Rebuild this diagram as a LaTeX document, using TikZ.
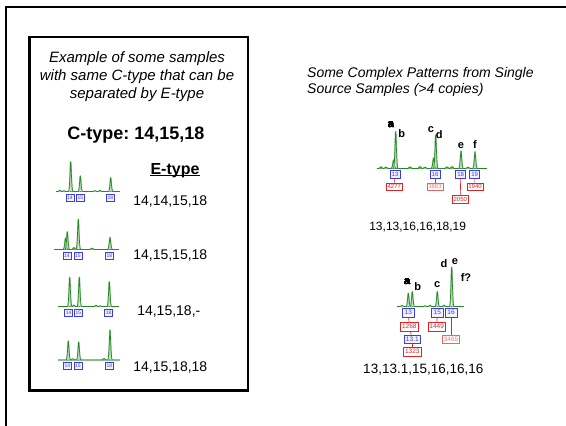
\documentclass[tikz,border=0pt]{standalone}
\usepackage{fontspec}
\setmainfont{Liberation Sans}
\usetikzlibrary{positioning}
\frenchspacing

\definecolor{tracegreen}{RGB}{40,135,40}
\definecolor{alleleblue}{RGB}{60,60,225}
\definecolor{areared}{RGB}{225,35,35}

\tikzset{
  trace/.style={draw=tracegreen, line width=0.7pt, line join=round},
  halo/.style={draw=tracegreen!35, line width=1.7pt, line join=round},
  allele/.style={draw=alleleblue, fill=alleleblue!6, text=alleleblue, line width=0.6pt, inner sep=0.8pt, minimum width=8pt, minimum height=6.8pt, font=\fontsize{5}{5}\selectfont},
  area/.style={draw=areared, fill=white, text=areared, line width=0.6pt, inner sep=1.5pt, minimum height=7.7pt, font=\fontsize{6}{6}\selectfont},
  areafaint/.style={area, draw=areared!70, text=areared!60},
  link/.style={draw=areared, line width=0.6pt},
  peaklbl/.style={font=\bfseries\fontsize{11}{11}\selectfont, inner sep=0pt},
  valuelbl/.style={anchor=base, font=\fontsize{14}{14}\selectfont, inner sep=0pt},
}

% one peak of a trace: x, baseline y, top y
\newcommand{\peak}[3]{%
  \draw[halo] ({#1-1.6},#2) .. controls ({#1-0.8},#2) and ({#1-0.4},#3) .. (#1,#3) .. controls ({#1+0.4},#3) and ({#1+0.8},#2) .. ({#1+1.6},#2);
  \draw[trace] ({#1-2.2},#2) .. controls ({#1-1},#2) and ({#1-0.4},#3) .. (#1,#3) .. controls ({#1+0.4},#3) and ({#1+1},#2) .. ({#1+2.2},#2);}

\begin{document}
\begin{tikzpicture}[x=1pt,y=-1pt]
  \useasboundingbox (0,0) rectangle (566,426);
  \draw[line width=2pt] (5.5,426) -- (5.5,6.5) -- (566,6.5);

  % left panel
  \draw[line width=2.4pt] (29.5,37) rectangle (248,390.5);
  \node[anchor=north, align=center, inner sep=0pt, font=\itshape\fontsize{15}{18}\selectfont] (ctitle) at (137,51)
    {Example of some samples\\with same C-type that can be\\separated by E-type};
  \node[anchor=base, inner sep=0pt, font=\bfseries\fontsize{18}{18}\selectfont] (ctype) at (136,139.5) {C-type: 14,15,18};
  \node[anchor=base, inner sep=0pt, font=\bfseries\fontsize{16}{16}\selectfont] (etype) at (175,174) {E-type};
  \draw[line width=1.2pt] ([yshift=-1.6pt]etype.base west) -- ([yshift=-1.6pt]etype.base east);

  % trace 1
  \draw[trace] (56,191.7) -- (120,191.7);
  \foreach \px/\py in {70.7/161.7, 80.3/176, 110.7/177.7, 60/190.3, 64/190.8, 95/190.6, 100/190.4}
    \peak{\px}{191.7}{\py}
  \node[allele] (t1a) at (70,197.7) {14};
  \node[allele] (t1b) at (80.3,197.7) {15};
  \node[allele] (t1c) at (110.3,197.7) {18};
  \node[valuelbl] (v1) at (170.3,205.7) {14,14,15,18};

  % trace 2
  \draw[trace] (54,249.3) -- (119.3,249.3);
  \foreach \px/\py in {65.5/238, 67.3/231.7, 78.3/219.3, 110/237.3, 74/247.5, 92/248.4}
    \peak{\px}{249.3}{\py}
  \node[allele] (t2a) at (67,256) {14};
  \node[allele] (t2b) at (78,256) {15};
  \node[allele] (t2c) at (109.3,256) {18};
  \node[valuelbl] (v2) at (170.3,259.5) {14,15,15,18};

  % trace 3
  \draw[trace] (58.3,306.7) -- (119.3,306.7);
  \foreach \px/\py in {69.7/277.3, 79.3/277.3, 109.3/281.7, 74/305.2, 96/305.4, 100/305.8}
    \peak{\px}{306.7}{\py}
  \node[allele] (t3a) at (68.7,312.7) {14};
  \node[allele] (t3b) at (78.3,312.7) {15};
  \node[allele] (t3c) at (108.7,312.7) {18};
  \node[valuelbl] (v3) at (168.8,315.7) {14,15,18,-};

  % trace 4
  \draw[trace, draw=tracegreen!55, line width=1.3pt] (58.3,360) -- (120,360);
  \foreach \px/\py in {68.3/341, 78.7/342, 110/330, 104/358.5, 73/358.8}
    \peak{\px}{360}{\py}
  \node[allele] (t4a) at (67.5,366) {14};
  \node[allele] (t4b) at (78,366) {15};
  \node[allele] (t4c) at (109.5,366) {18};
  \node[valuelbl] (v4) at (170.3,371) {14,15,18,18};

  % right panel
  \node[anchor=north west, align=left, inner sep=0pt, font=\itshape\fontsize{14}{16}\selectfont] (ptitle) at (307,67.5)
    {Some Complex Patterns from Single\\Source Samples (>4 copies)};

  % upper trace
  \draw[trace] (376.7,168.3) -- (486.7,168.3);
  \foreach \px/\py in {381/166.8, 386/167.2, 393.5/160, 395.7/131.7, 410/167, 420/166.6, 425/167.4,
                       433.5/158, 435.7/135, 447/167, 452/166.6, 461/151, 468/167.2, 475/151.7}
    \peak{\px}{168.3}{\py}
  \node[peaklbl] (pa) at (391,125) {a};
  \node[peaklbl] (pb) at (401.7,133.3) {b};
  \node[peaklbl] (pc) at (431,130) {c};
  \node[peaklbl] (pd) at (439.3,135) {d};
  \node[peaklbl] (pe) at (461,145.7) {e};
  \node[peaklbl] (pf) at (475,145) {f};

  \node[allele, minimum width=10pt, minimum height=7.7pt, font=\fontsize{6}{6}\selectfont] (u13) at (395,174.3) {13};
  \node[allele, minimum width=10pt, minimum height=7.7pt, font=\fontsize{6}{6}\selectfont] (u16) at (435,174.3) {16};
  \node[allele, minimum width=10pt, minimum height=7.7pt, font=\fontsize{6}{6}\selectfont] (u18) at (460.7,174.3) {18};
  \node[allele, minimum width=10pt, minimum height=7.7pt, font=\fontsize{6}{6}\selectfont] (u19) at (474.7,174.3) {19};
  \node[area] (a4277) at (394.3,186.7) {4277};
  \node[areafaint] (a3883) at (435,186.7) {3883};
  \node[area] (a1940) at (475,186.7) {1940};
  \node[area] (a2050) at (460.3,199) {2050};
  \draw[link] (u13) -- (a4277);
  \draw[link] (u16) -- (a3883);
  \draw[link] (u19) -- (a1940);
  \draw[link] (u18) -- (a2050);
  \node[anchor=base, inner sep=0pt, font=\fontsize{12}{12}\selectfont] (useq) at (417.7,230.3) {13,13,16,16,18,19};

  % lower trace
  \draw[trace] (396.7,306.7) -- (464,306.7);
  \foreach \px/\py in {402/305.5, 408.3/293.3, 412.3/291.7, 425/305.8, 430/305.4, 437.3/291.7, 444/305.2, 451.7/267.3}
    \peak{\px}{306.7}{\py}
  \node[peaklbl] (qa) at (407.3,281.7) {a};
  \node[peaklbl] (qb) at (417.7,286.7) {b};
  \node[peaklbl] (qc) at (437.3,285) {c};
  \node[peaklbl] (qd) at (444,264) {d};
  \node[peaklbl] (qe) at (455,261.7) {e};
  \node[peaklbl] (qf) at (466,277.3) {f?};

  \node[allele, minimum width=12pt, minimum height=8.3pt, font=\fontsize{6.5}{6.5}\selectfont] (l13) at (408.3,312.7) {13};
  \node[allele, minimum width=12pt, minimum height=8.3pt, font=\fontsize{6.5}{6.5}\selectfont] (l15) at (437.3,312.7) {15};
  \node[allele, minimum width=12pt, minimum height=8.3pt, font=\fontsize{6.5}{6.5}\selectfont] (l16) at (451,312.7) {16};
  \node[allele, inner sep=2pt, minimum height=8.3pt, font=\fontsize{6.5}{6.5}\selectfont] (l131) at (412.3,339.3) {13.1};
  \node[area, minimum height=8.3pt, font=\fontsize{6.5}{6.5}\selectfont] (a1268) at (409.3,326.7) {1268};
  \node[area, minimum height=8.3pt, font=\fontsize{6.5}{6.5}\selectfont] (a1449) at (436.7,326.7) {1449};
  \node[areafaint, minimum height=8.3pt, font=\fontsize{6.5}{6.5}\selectfont] (a3465) at (451,339.3) {3465};
  \node[area, minimum height=8.3pt, font=\fontsize{6.5}{6.5}\selectfont] (a1323) at (412.3,351.7) {1323};
  \draw[link] (l13) -- (a1268);
  \draw[link] (a1268) -- (l131);
  \draw[link] (l131) -- (a1323);
  \draw[link] (l15) -- (a1449);
  \draw[link] (l16) -- (a3465);
  \node[anchor=base, inner sep=0pt, font=\fontsize{13.5}{13.5}\selectfont] (lseq) at (423.3,373.1) {13,13.1,15,16,16,16};
\end{tikzpicture}
\end{document}
